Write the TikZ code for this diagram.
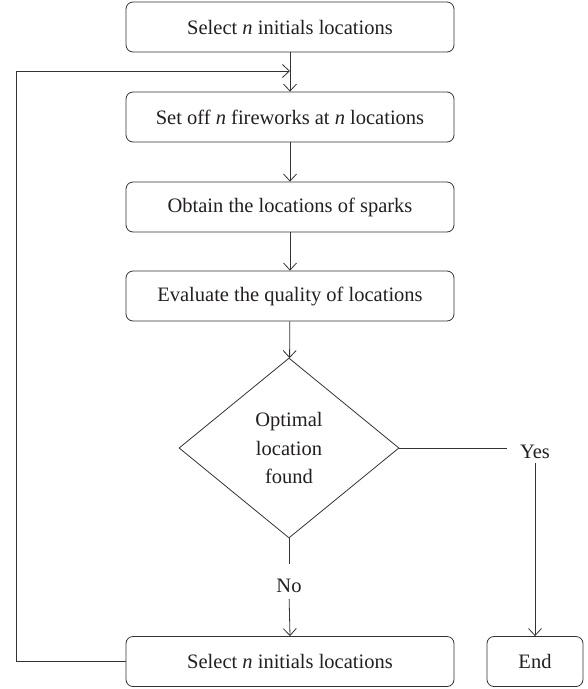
\documentclass[tikz,border=0pt]{standalone}
\usepackage{fontspec}
\setmainfont{Liberation Serif}
\usetikzlibrary{shapes.geometric,arrows.meta}
\definecolor{lncol}{HTML}{333333}
\definecolor{txcol}{HTML}{231F20}
\begin{document}
\begin{tikzpicture}[x=1pt,y=-1pt,line width=0.8pt,
  box/.style={draw=lncol, rounded corners=7pt, minimum width=328pt, minimum height=50pt, inner sep=0pt, font=\fontsize{20.5}{24}\selectfont, text=txcol},
  dec/.style={diamond, draw=lncol, minimum width=220pt, minimum height=180pt, inner sep=0pt, aspect=1.22, align=center, font=\fontsize{20.5}{28.5}\selectfont, text=txcol},
  lbl/.style={font=\fontsize{20.5}{24}\selectfont, text=txcol, inner sep=0pt},
  arr/.style={draw=lncol, -{Straight Barb[length=7pt,width=13pt]}},
  conn/.style={draw=lncol}
]
\useasboundingbox (0,0) rectangle (588,689);
\node[box] (b1) at (290,27) {Select \textit{n} initials locations};
\node[box] (b2) at (290,117) {Set off \textit{n} fireworks at \textit{n} locations};
\node[box] (b3) at (290,207) {Obtain the locations of sparks};
\node[box] (b4) at (290,296) {Evaluate the quality of locations};
\node[dec] (d) at (289,448) {Optimal\\location\\found};
\node[lbl] (yes) at (535,452) {Yes};
\node[lbl] (no) at (289,586) {No};
\node[box] (b5) at (290,661.5) {Select \textit{n} initials locations};
\node[box, minimum width=96pt] (end) at (535,661.5) {End};
\coordinate (fb) at (290,71);
\coordinate (lf) at (16,71);
\draw[arr] (b1) -- (b2);
\draw[arr] (b2) -- (b3);
\draw[arr] (b3) -- (b4);
\draw[arr] (b4) -- (d);
\draw[conn, shorten >=13pt] (d.east) -- (d.east -| yes.west);
\draw[arr, shorten <=4pt] (yes.south -| end.north) -- (end.north);
\draw[conn, shorten >=15pt] (d.south) -- (no.north);
\draw[arr, shorten <=6pt] (no.south) -- (b5.north);
\draw[arr] (b5.west) -| (lf) -- (fb);
\end{tikzpicture}
\end{document}
